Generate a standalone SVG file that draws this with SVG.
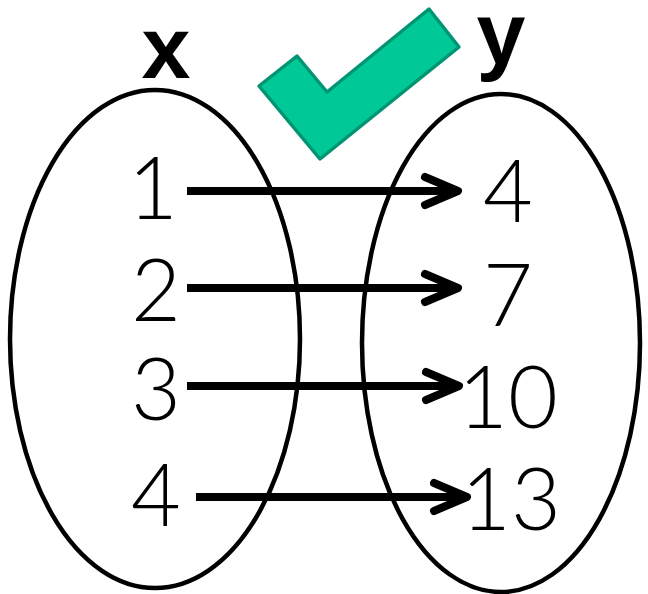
<svg xmlns="http://www.w3.org/2000/svg" width="648" height="594" viewBox="0 0 648 594">
<style>
.set{fill:none;stroke:#000;stroke-width:4.5}
.num{font-family:"Lato","Liberation Sans",sans-serif;font-weight:300;font-size:86px;fill:#000;text-anchor:middle}
.lbl{font-family:"Liberation Sans",Arial,sans-serif;font-weight:bold;font-size:88px;fill:#000;text-anchor:middle}
.arr{fill:none;stroke:#000;stroke-width:8}
</style>
<defs>
<marker id="head" markerUnits="userSpaceOnUse" markerWidth="50" markerHeight="40" viewBox="-40 -20 50 40" refX="0" refY="0" orient="auto">
<path d="M -33 -14 L 0 0 L -33 14" fill="none" stroke="#000" stroke-width="8" stroke-linecap="round" stroke-linejoin="round"/>
</marker>
</defs>
<rect width="648" height="594" fill="#fff"/>
<g id="domain">
<ellipse class="set" cx="155" cy="339" rx="145" ry="249"/>
<text class="lbl" x="166" y="78">x</text>
</g>
<g id="range">
<ellipse class="set" cx="501" cy="343" rx="139" ry="249"/>
<text class="lbl" x="501" y="64">y</text>
</g>
<g id="check">
<polygon points="259,86 297,56 327,92 429,9 459,47 320,159" fill="#00C896" stroke="#009473" stroke-width="3.5" stroke-linejoin="round"/>
</g>
<g id="x1"><text class="num" x="153" y="219">1</text></g>
<g id="x2"><text class="num" x="156" y="321">2</text></g>
<g id="x3"><text class="num" x="156" y="420">3</text></g>
<g id="x4"><text class="num" x="156" y="526">4</text></g>
<g id="y4"><text class="num" x="508" y="222">4</text></g>
<g id="y7"><text class="num" x="508" y="326">7</text></g>
<g id="y10"><text class="num" x="508" y="428">10</text></g>
<g id="y13"><text class="num" x="511" y="530">13</text></g>
<g id="connectors">
<path class="arr" d="M187 191 H458" marker-end="url(#head)"/>
<path class="arr" d="M187 288 H458" marker-end="url(#head)"/>
<path class="arr" d="M187 386 H459" marker-end="url(#head)"/>
<path class="arr" d="M196 497 H467" marker-end="url(#head)"/>
</g>
</svg>
